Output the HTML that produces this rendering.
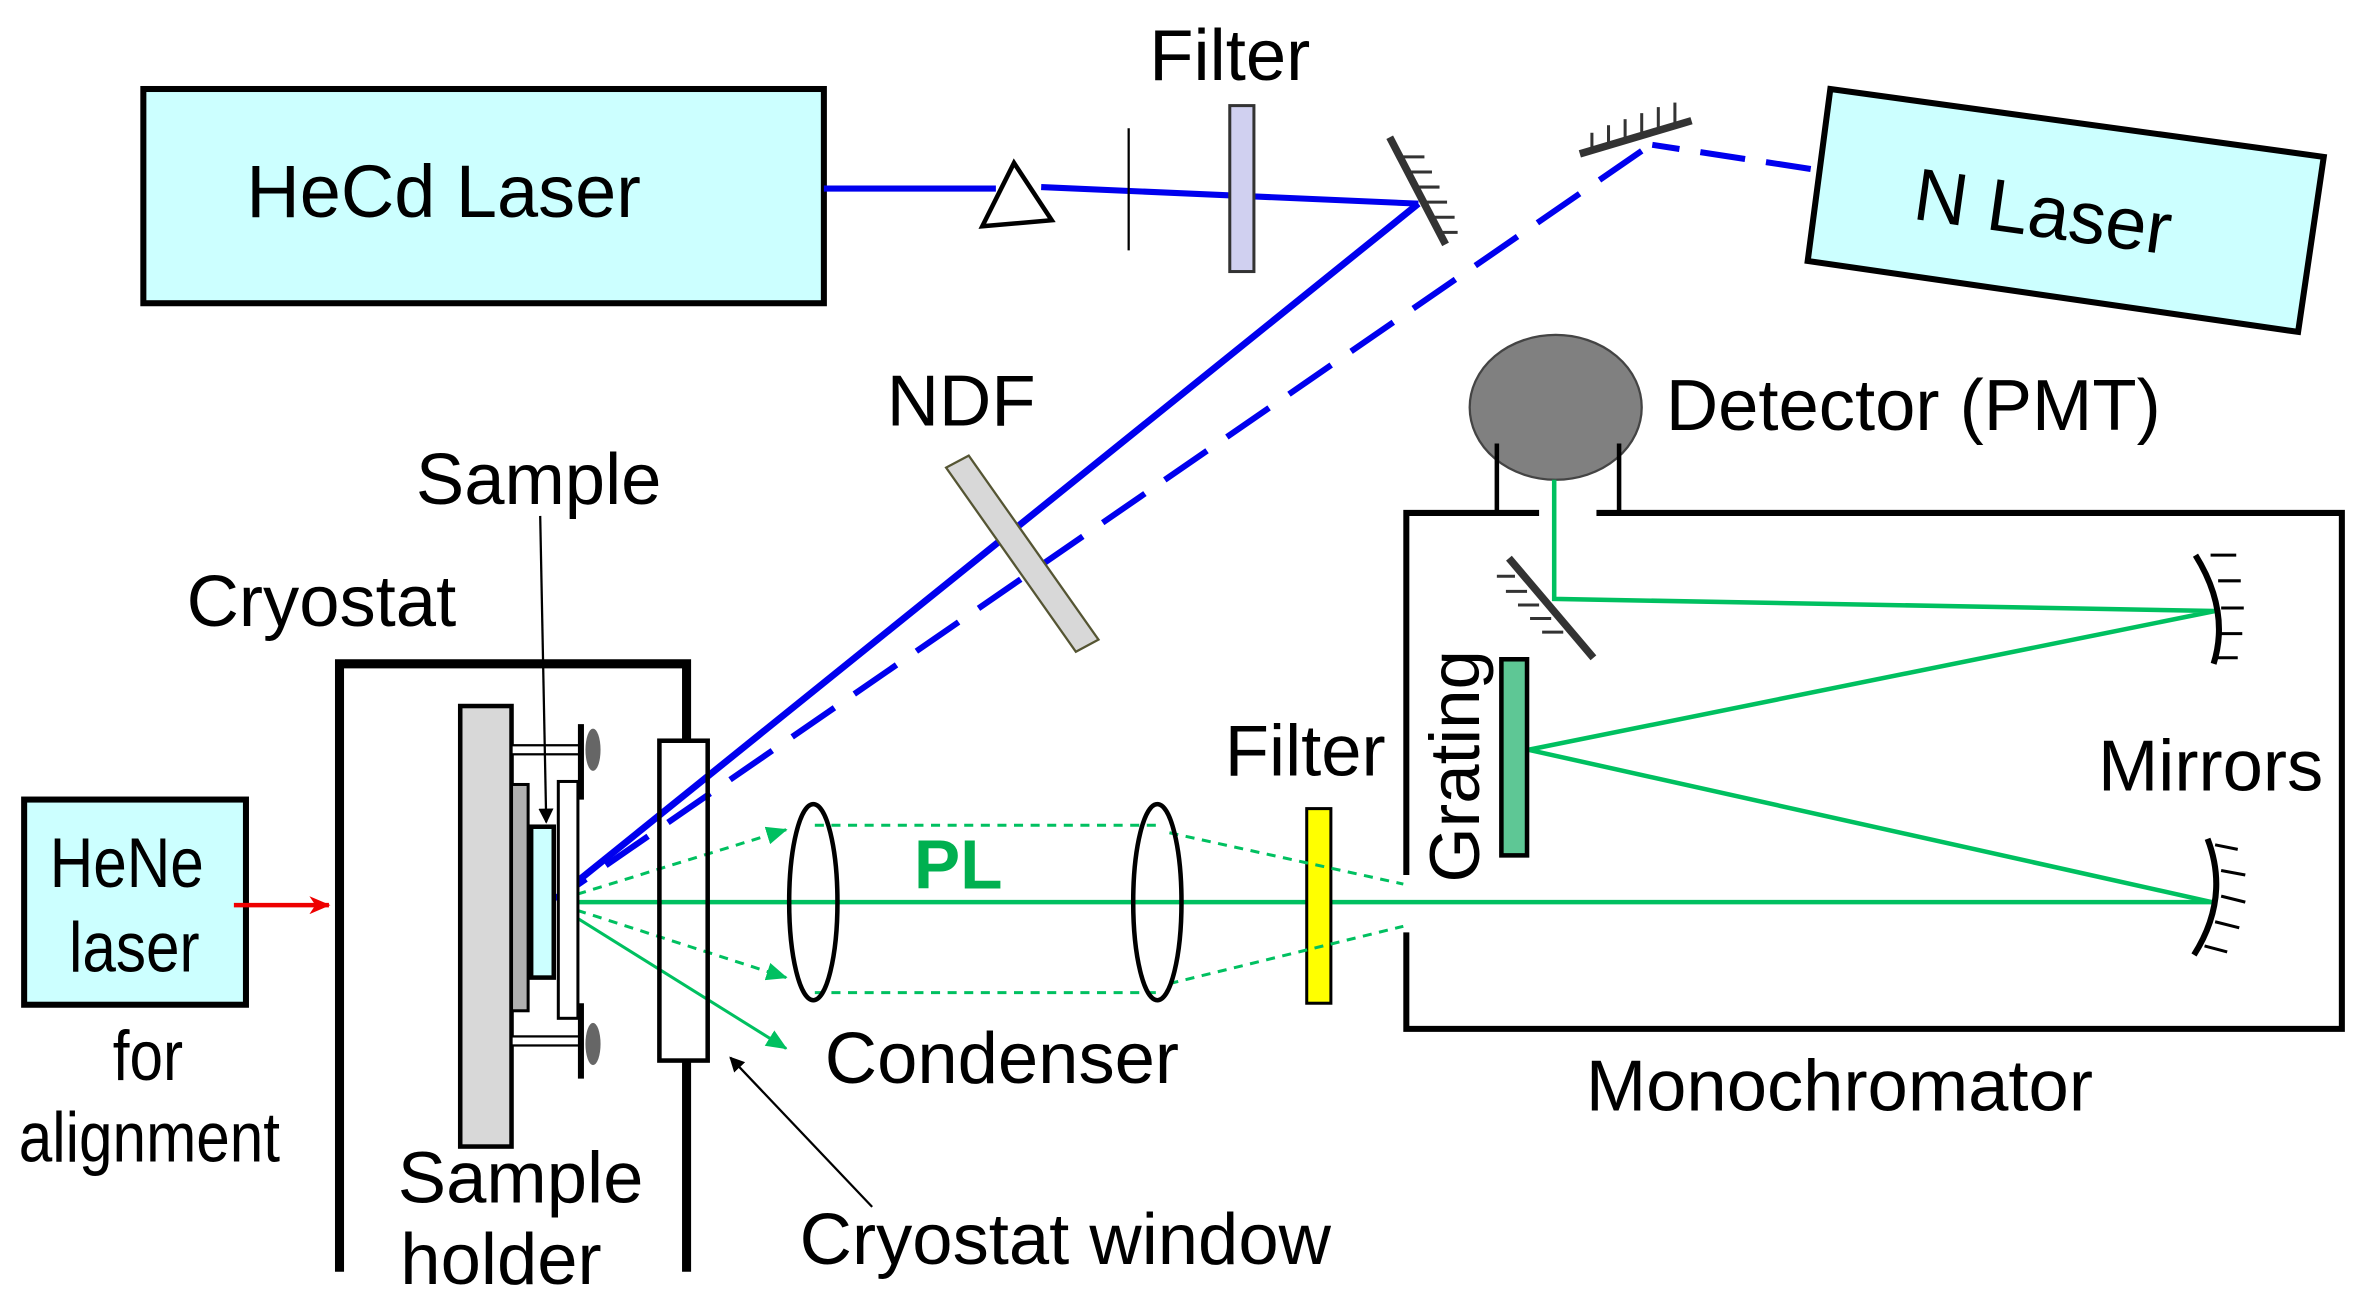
<!DOCTYPE html>
<html><head><meta charset="utf-8"><style>
html,body{margin:0;padding:0;background:#fff;}
svg{display:block;}
text{font-family:"Liberation Sans",Arial,sans-serif;fill:#000;}
</style></head><body>
<svg width="2366" height="1314" viewBox="0 0 1568 871" preserveAspectRatio="none" xmlns="http://www.w3.org/2000/svg">
<defs>
<marker id="gab" markerWidth="14" markerHeight="12" refX="13" refY="6" orient="auto" markerUnits="userSpaceOnUse" viewBox="0 0 14 12"><path d="M0,0 L14,6 L0,12 z" fill="#00c060"/></marker>
<marker id="ka" markerWidth="10" markerHeight="10" refX="9" refY="5" orient="auto" markerUnits="userSpaceOnUse" viewBox="0 0 10 10"><path d="M0,0 L10,5 L0,10 z" fill="#000"/></marker>
<marker id="ra" markerWidth="14" markerHeight="12" refX="13" refY="6" orient="auto" markerUnits="userSpaceOnUse" viewBox="0 0 14 12"><path d="M0,0 L14,6 L0,12 L4,6 z" fill="#ee0000"/></marker>
</defs>

<!-- HeCd laser -->
<rect x="95" y="59" width="451" height="142" fill="#ccffff" stroke="#000" stroke-width="4"/>
<text x="294" y="144" font-size="49" text-anchor="middle">HeCd Laser</text>
<line x1="546" y1="125" x2="660" y2="125" stroke="#0000ee" stroke-width="4"/>
<line x1="690" y1="124" x2="940" y2="135" stroke="#0000ee" stroke-width="4"/>
<polygon points="672,108 697,146 651,150" fill="#fff" stroke="#000" stroke-width="3"/>
<line x1="748" y1="85" x2="748" y2="166" stroke="#000" stroke-width="1.5"/>
<rect x="815" y="70" width="16" height="110" fill="#d0d0f0" stroke="#333" stroke-width="2"/>
<text x="815" y="53" font-size="48" text-anchor="middle">Filter</text>
<!-- mirror 1 -->
<line x1="921" y1="91" x2="958" y2="162" stroke="#333" stroke-width="5"/>
<g stroke="#333" stroke-width="2">
<line x1="930" y1="104" x2="944" y2="104"/><line x1="935" y1="114" x2="949" y2="114"/><line x1="940" y1="124" x2="954" y2="124"/><line x1="945" y1="134" x2="959" y2="134"/><line x1="950" y1="144" x2="964" y2="144"/><line x1="955" y1="154" x2="966" y2="154"/></g>
<line x1="940" y1="135" x2="368" y2="596" stroke="#0000ee" stroke-width="4.5"/>
<!-- N laser -->
<polygon points="1213,59 1540,104 1523,220 1198,173" fill="#ccffff" stroke="#000" stroke-width="4"/>
<text x="1354" y="157" font-size="49" text-anchor="middle" transform="rotate(8 1354 140)">N Laser</text>
<!-- mirror 2 -->
<line x1="1047" y1="102" x2="1121" y2="80" stroke="#333" stroke-width="5"/>
<g stroke="#333" stroke-width="2">
<line x1="1055" y1="100" x2="1055" y2="88"/><line x1="1066" y1="97" x2="1066" y2="83"/><line x1="1077" y1="93" x2="1077" y2="79"/><line x1="1088" y1="90" x2="1088" y2="75"/><line x1="1099" y1="87" x2="1099" y2="71"/><line x1="1110" y1="83" x2="1110" y2="68"/></g>
<line x1="1200" y1="112" x2="1095" y2="96" stroke="#0000ee" stroke-width="4" stroke-dasharray="30,14"/>
<line x1="1088" y1="100" x2="372" y2="594" stroke="#0000ee" stroke-width="4" stroke-dasharray="34,16"/>
<!-- NDF -->
<polygon points="627,310 642,302 728,424 713,432" fill="#d8d8d8" stroke="#555533" stroke-width="1.5"/>
<text x="637" y="282" font-size="48" text-anchor="middle">NDF</text>

<!-- Detector -->
<ellipse cx="1031" cy="270" rx="57" ry="48" fill="#808080" stroke="#444" stroke-width="1.5"/>
<line x1="992" y1="294" x2="992" y2="340" stroke="#000" stroke-width="3"/>
<line x1="1073" y1="294" x2="1073" y2="340" stroke="#000" stroke-width="3"/>
<text x="1104" y="285" font-size="48">Detector (PMT)</text>
<!-- Monochromator -->
<polyline points="1020,340 932,340 932,580" fill="none" stroke="#000" stroke-width="4"/>
<polyline points="932,618 932,682 1552,682 1552,340 1058,340" fill="none" stroke="#000" stroke-width="4"/>
<text x="1219" y="736" font-size="48" text-anchor="middle">Monochromator</text>
<line x1="1000" y1="370" x2="1056" y2="436" stroke="#333" stroke-width="5"/>
<g stroke="#333" stroke-width="2">
<line x1="1004" y1="382" x2="992" y2="382"/><line x1="1012" y1="392" x2="998" y2="392"/><line x1="1020" y1="401" x2="1006" y2="401"/><line x1="1028" y1="410" x2="1014" y2="410"/><line x1="1036" y1="419" x2="1022" y2="419"/></g>
<g stroke="#00c060" stroke-width="3" fill="none">
<polyline points="1030,318 1030,397 1468,405 1013,497 1466,598"/>
<line x1="370" y1="598" x2="1466" y2="598"/>
</g>
<path d="M1455,368 Q1478,405 1467,440" fill="none" stroke="#000" stroke-width="4"/>
<g stroke="#000" stroke-width="2"><line x1="1465" y1="368" x2="1482" y2="368"/><line x1="1470" y1="385" x2="1485" y2="385"/><line x1="1472" y1="403" x2="1487" y2="403"/><line x1="1471" y1="420" x2="1486" y2="420"/><line x1="1468" y1="436" x2="1483" y2="436"/></g>
<path d="M1463,556 Q1478,595 1454,633" fill="none" stroke="#000" stroke-width="4"/>
<g stroke="#000" stroke-width="2"><line x1="1468" y1="560" x2="1483" y2="563"/><line x1="1472" y1="577" x2="1488" y2="580"/><line x1="1472" y1="594" x2="1488" y2="598"/><line x1="1468" y1="611" x2="1484" y2="615"/><line x1="1461" y1="627" x2="1476" y2="631"/></g>
<rect x="995" y="437" width="17" height="130" fill="#5ec795" stroke="#000" stroke-width="3"/>
<text x="0" y="0" font-size="47" transform="translate(980 585) rotate(-90)">Grating</text>
<text x="1465" y="524" font-size="48" text-anchor="middle">Mirrors</text>

<rect x="866" y="536" width="16" height="129" fill="#ffff00" stroke="#000" stroke-width="2"/>
<text x="865" y="514" font-size="48" text-anchor="middle">Filter</text>
<g stroke="#00c060" stroke-width="2" fill="none" stroke-dasharray="6,5">
<line x1="540" y1="547" x2="766" y2="547"/>
<line x1="540" y1="658" x2="766" y2="658"/>
<line x1="775" y1="552" x2="930" y2="586"/>
<line x1="775" y1="652" x2="930" y2="614"/>
<line x1="372" y1="596" x2="521" y2="550" marker-end="url(#gab)"/>
<line x1="372" y1="600" x2="521" y2="648" marker-end="url(#gab)"/>
</g>
<line x1="372" y1="602" x2="521" y2="695" stroke="#00c060" stroke-width="2" marker-end="url(#gab)"/>
<ellipse cx="539" cy="598" rx="16" ry="65" fill="none" stroke="#000" stroke-width="3"/>
<ellipse cx="767" cy="598" rx="16" ry="65" fill="none" stroke="#000" stroke-width="3"/>
<text x="635" y="589" font-size="46" font-weight="bold" style="fill:#00b050" text-anchor="middle">PL</text>
<text x="664" y="718" font-size="48" text-anchor="middle">Condenser</text>

<!-- Cryostat -->
<polyline points="225,843 225,440 455,440 455,491" fill="none" stroke="#000" stroke-width="6"/>
<line x1="455" y1="703" x2="455" y2="843" stroke="#000" stroke-width="6"/>
<rect x="437" y="491" width="32" height="212" fill="none" stroke="#000" stroke-width="3"/>
<text x="213" y="415" font-size="48" text-anchor="middle">Cryostat</text>
<rect x="305" y="468" width="34" height="292" fill="#d8d8d8" stroke="#000" stroke-width="3"/>
<rect x="339" y="520" width="11" height="150" fill="#b0b0b0" stroke="#000" stroke-width="2"/>
<rect x="352" y="548" width="15" height="100" fill="#ccffff" stroke="#000" stroke-width="3"/>
<rect x="370" y="518" width="13" height="157" fill="#fff" stroke="#000" stroke-width="2"/>
<g stroke="#000" stroke-width="1.5">
<rect x="339" y="494" width="46" height="6" fill="#fff"/>
<rect x="339" y="687" width="46" height="6" fill="#fff"/>
</g>
<line x1="385" y1="480" x2="385" y2="530" stroke="#000" stroke-width="4"/>
<line x1="385" y1="665" x2="385" y2="715" stroke="#000" stroke-width="4"/>
<ellipse cx="393" cy="497" rx="5" ry="14" fill="#666"/>
<ellipse cx="393" cy="692" rx="5" ry="14" fill="#666"/>
<text x="357" y="334" font-size="48" text-anchor="middle">Sample</text>
<line x1="358" y1="342" x2="362" y2="545" stroke="#000" stroke-width="1.5" marker-end="url(#ka)"/>
<text x="345" y="797" font-size="48" text-anchor="middle">Sample</text>
<text x="332" y="851" font-size="48" text-anchor="middle">holder</text>
<text x="706" y="838" font-size="48" text-anchor="middle">Cryostat window</text>
<line x1="578" y1="800" x2="484" y2="701" stroke="#000" stroke-width="1.5" marker-end="url(#ka)"/>

<!-- HeNe -->
<rect x="16" y="530" width="147" height="136" fill="#ccffff" stroke="#000" stroke-width="4"/>
<text x="0" y="0" font-size="47" text-anchor="middle" transform="translate(84 588) scale(0.85 1)">HeNe</text>
<text x="0" y="0" font-size="47" text-anchor="middle" transform="translate(89 644) scale(0.85 1)">laser</text>
<line x1="155" y1="600" x2="218" y2="600" stroke="#ee0000" stroke-width="3" marker-end="url(#ra)"/>
<text x="0" y="0" font-size="47" text-anchor="middle" transform="translate(98 716) scale(0.85 1)">for</text>
<text x="0" y="0" font-size="47" text-anchor="middle" transform="translate(99 770) scale(0.85 1)">alignment</text>
</svg>
</body></html>
